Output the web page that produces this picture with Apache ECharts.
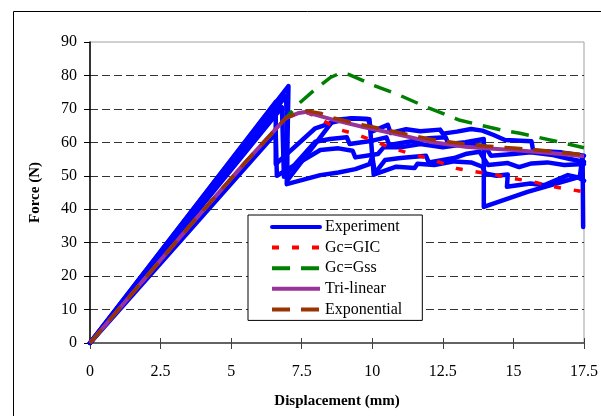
<!DOCTYPE html>
<html><head><meta charset="utf-8">
<script src="https://cdn.jsdelivr.net/npm/echarts@6/dist/echarts.min.js"></script>
<style>html,body{margin:0;padding:0;background:#fff}#c{width:601px;height:416px}</style>
</head><body><div id="c"></div>
<script>
// ---- data (displacement mm, force N) ----
const exp1 = [[0,0],[7.03,76.8],[6.97,47.5],[8.16,50.2],[8.8,51.0],[9.4,52.0],[9.9,53.5],[10.0,55.7],[10.1,50.5],[10.85,52.7],[11.5,52.3],[11.6,53.6],[12.2,53.2],[12.9,54.3],[13.5,54.0],[13.9,52.7],[14.0,50.7],[14.4,50.0],[14.8,50.4],[14.77,46.7],[15.6,47.7],[16.1,47.2],[16.93,50.2],[17.3,49.5],[17.5,48.5]];
const exp2 = [[0,0],[6.58,72.1],[6.58,53.5],[7.98,64.2],[8.6,66.0],[9.2,67.1],[9.85,67.0],[10.0,63.3],[10.55,65.2],[10.65,62.8],[11.2,63.9],[11.7,63.3],[12.4,63.8],[12.5,62.6],[13.0,63.2],[13.5,64.0],[13.9,63.5],[14.3,62.2],[14.7,60.7],[15.64,60.3],[15.7,57.5],[16.7,57.0],[17.5,56.0]];
const exp3 = [[0,0],[6.8,70.5],[6.87,49.7],[7.98,60.2],[8.5,61.0],[9.1,61.5],[9.2,59.5],[10.0,60.5],[10.5,61.5],[10.6,59.2],[11.5,60.5],[12.0,61.2],[12.6,61.5],[12.7,59.5],[13.3,60.0],[13.95,61.0],[13.95,40.7],[15.5,45.2],[17.35,49.7],[17.45,55.8],[17.47,34.7]];
const exp4 = [[0,0],[6.58,62.7],[6.62,50.0],[8.16,57.7],[8.8,58.2],[9.3,57.5],[9.4,55.5],[10.2,56.5],[10.4,58.5],[11.0,58.5],[11.7,59.5],[12.5,58.5],[13.3,59.5],[14.0,58.8],[14.2,56.0],[15.0,56.5],[15.6,57.0],[16.4,56.2],[17.0,55.0],[17.5,54.2]];
const exp5 = [[0,0],[6.95,74.0],[6.99,48.6],[8.63,66.7],[9.3,67.2],[9.9,66.9],[10.05,50.3],[10.45,54.7],[11.0,55.3],[11.9,56.0],[12.0,54.0],[12.9,55.3],[13.3,56.5],[13.8,57.2],[14.1,53.2],[14.8,53.8],[15.2,52.6],[15.64,53.7],[16.2,54.0],[16.8,53.2],[17.5,53.5]];
const gcGIC = [[0,0],[3.5,34.7],[5.47,53.7],[6.93,67.2],[7.4,68.8],[7.63,69.1],[8.0,67.8],[8.5,65.3],[8.92,63.6],[9.51,62.2],[10.1,60.2],[10.67,58.4],[11.3,56.7],[11.9,55.4],[12.5,53.7],[13.0,52.2],[13.65,51.2],[14.3,50.4],[15.0,49.2],[15.7,48.2],[16.3,46.9],[16.93,46.0],[17.5,45.2]];
const gcGss = [[0,0],[3.5,34.7],[5.47,53.7],[6.93,67.2],[7.4,71.6],[8.0,76.0],[8.5,79.3],[8.88,80.8],[9.2,80.2],[10.03,77.1],[10.96,74.1],[11.9,70.6],[13.07,66.7],[13.89,65.0],[14.46,63.9],[15.23,62.7],[16.46,60.4],[17.5,58.4]];
const triLinear = [[0,0],[3.5,34.7],[5.47,53.7],[6.93,67.2],[7.4,68.8],[7.63,69.1],[8.0,68.2],[8.63,66.7],[9.68,64.6],[10.73,62.7],[12.02,60.2],[13.3,58.7],[14.0,58.2],[15.0,57.7],[15.76,57.2],[16.7,56.5],[17.5,55.8]];
const exponential = [[0,0],[3.5,34.7],[5.47,53.7],[6.93,67.2],[7.4,69.0],[7.7,69.4],[8.2,68.6],[8.63,67.3],[9.68,65.2],[10.73,63.3],[12.02,61.0],[13.3,59.5],[14.0,58.9],[15.0,58.3],[15.76,57.8],[16.7,57.0],[17.5,56.3]];
const legendNames = ['Experiment','Gc=GIC','Gc=Gss','Tri-linear','Exponential'];
const xTickValues = [0,2.5,5,7.5,10,12.5,15,17.5];
const yTickValues = [0,10,20,30,40,50,60,70,80,90];

const FONT = 'Liberation Serif';
const chart = echarts.init(document.getElementById('c'), null, {renderer:'canvas'});
const expSeries = [exp1,exp2,exp3,exp4,exp5].map(d => ({
  name:'Experiment', type:'line', data:d, symbol:'none', showSymbol:false,
  lineStyle:{color:'#0000FF', width:4.5, join:'round', cap:'round'}, itemStyle:{color:'#0000FF'}, z:2
}));
const gridColors = yTickValues.map((v,i) => (i===0||i===yTickValues.length-1) ? 'rgba(0,0,0,0)' : '#333');
chart.setOption({
  animation:false,
  backgroundColor:'#fff',
  grid:{left:90, right:11, top:42, bottom:73, show:true, borderColor:'#A0A0A0', borderWidth:1, backgroundColor:'rgba(0,0,0,0)'},
  xAxis:[{
    type:'value', min:0, max:17.5, interval:2.5,
    name:'Displacement (mm)', nameLocation:'middle', nameGap:51,
    nameTextStyle:{fontFamily:FONT, fontSize:15, fontWeight:'bold', color:'#000'},
    axisLine:{show:true, onZero:false, lineStyle:{color:'#404040', width:1.5}},
    axisTick:{show:true, length:6, lineStyle:{color:'#404040', width:1}},
    axisLabel:{fontFamily:FONT, fontSize:16, color:'#000', margin:21, showMinLabel:true, showMaxLabel:true,
      formatter: v => String(xTickValues.find(t => Math.abs(t-v)<1e-9) ?? v)},
    splitLine:{show:false}
  },{
    type:'value', min:0, max:17.5, interval:2.5, position:'bottom',
    axisLine:{show:false}, axisTick:{show:true, inside:true, length:5, lineStyle:{color:'#404040', width:1}},
    axisLabel:{show:false}, splitLine:{show:false}
  }],
  yAxis:{
    type:'value', min:0, max:90, interval:10,
    name:'Force (N)', nameLocation:'middle', nameGap:47,
    nameTextStyle:{fontFamily:FONT, fontSize:15, fontWeight:'bold', color:'#000'},
    axisLine:{show:true, onZero:false, lineStyle:{color:'#000', width:1.5}},
    axisTick:{show:true, length:6, lineStyle:{color:'#000', width:1}},
    axisLabel:{fontFamily:FONT, fontSize:16, color:'#000', margin:13},
    splitLine:{show:true, lineStyle:{color:gridColors, type:[8,4], width:1}}
  },
  legend:{
    data:legendNames, orient:'vertical', left:248, top:215,
    backgroundColor:'#fff', borderColor:'#000', borderWidth:1, borderRadius:0,
    padding:[4,20,3,22], itemWidth:48, itemHeight:14, itemGap:4.6,
    itemStyle:{opacity:0, borderWidth:0},
    lineStyle:{width:4},
    textStyle:{fontFamily:FONT, fontSize:16, color:'#000'},
    selectedMode:false
  },
  graphic:[{type:'rect', left:11, top:9, z:100, shape:{width:700, height:600}, style:{fill:'none', stroke:'#000', lineWidth:1}}],
  series: expSeries.concat([
    {name:'Gc=GIC', type:'line', data:gcGIC, symbol:'none', lineStyle:{color:'#FF0000', width:3.5, type:[7,13], cap:'butt'}, itemStyle:{color:'#FF0000'}, z:3},
    {name:'Gc=Gss', type:'line', data:gcGss, symbol:'none', lineStyle:{color:'#008000', width:3.5, type:[18,11], cap:'butt'}, itemStyle:{color:'#008000'}, z:3},
    {name:'Tri-linear', type:'line', data:triLinear, symbol:'none', lineStyle:{color:'#993399', width:4}, itemStyle:{color:'#993399'}, z:3},
    {name:'Exponential', type:'line', data:exponential, symbol:'none', lineStyle:{color:'#993300', width:3.5, type:[18,11], cap:'butt'}, itemStyle:{color:'#993300'}, z:3}
  ])
});
</script></body></html>
